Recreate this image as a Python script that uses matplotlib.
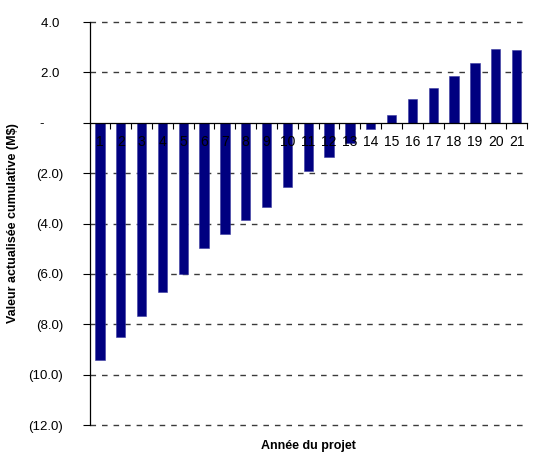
import numpy as np
import matplotlib
matplotlib.use('Agg')
import matplotlib.pyplot as plt
from matplotlib.ticker import FuncFormatter, FixedLocator

plt.rcParams['font.family'] = ['Liberation Sans', 'DejaVu Sans']

years = list(range(1, 22))
cumulative_npv = [-9.42, -8.49, -7.67, -6.72, -5.99, -4.97, -4.42, -3.86, -3.33,
                  -2.56, -1.93, -1.35, -0.79, -0.24, 0.32, 0.94, 1.38, 1.87,
                  2.37, 2.91, 2.87]
y_ticks = [4.0, 2.0, 0.0, -2.0, -4.0, -6.0, -8.0, -10.0, -12.0]


def accounting(v, pos=None):
    # format comptable Excel: négatifs entre parenthèses, zéro en tiret
    if abs(v) < 1e-9:
        return "-\u2007\u2007 "
    if v < 0:
        return f"({abs(v):.1f})"
    return f"{v:.1f} "


fig = plt.figure(figsize=(5.38, 4.59), dpi=100)
ax = fig.add_axes([0.1664, 0.074, 0.813, 0.878])

x = np.arange(len(years))
ax.bar(x, cumulative_npv, width=0.45, color='#000080', edgecolor='#3a3aa0',
       linewidth=0.4, zorder=1)

for v in y_ticks:
    if v != 0:
        ax.axhline(v, color='#3a3a3a', lw=1.0, ls=(0, (4.0, 4.3)), zorder=0.5,
                   clip_on=False)

ax.set_xlim(-0.5, len(years) - 0.5)
ax.set_ylim(-12, 4)
ax.yaxis.set_major_locator(FixedLocator(y_ticks))
ax.yaxis.set_major_formatter(FuncFormatter(accounting))
ax.tick_params(axis='y', direction='out', length=5, width=0.8, pad=14,
               labelsize=9.5)

ax.spines['top'].set_visible(False)
ax.spines['right'].set_visible(False)
ax.spines['bottom'].set_position(('data', 0))
ax.spines['bottom'].set_linewidth(0.9)
ax.spines['left'].set_linewidth(0.9)

ax.set_xticks(x)
ax.set_xticklabels([str(y) for y in years])
ax.set_xticks(np.arange(len(years) + 1) - 0.5, minor=True)
ax.tick_params(axis='x', which='major', length=0, pad=9, labelsize=10)
ax.tick_params(axis='x', which='minor', direction='out', length=4, width=0.8)
# les étiquettes d'années passent par-dessus les barres
ax.xaxis.set_zorder(3)

ax.set_ylabel("Valeur actualisée cumulative (M$)", fontsize=9,
              fontweight='bold')
ax.yaxis.set_label_coords(-0.162, 0.5)
fig.text(0.5725, 1 - 446 / 459, "Année du projet", fontsize=9,
         fontweight='bold', ha='center', va='center')

fig.savefig("out.png", dpi=100)
